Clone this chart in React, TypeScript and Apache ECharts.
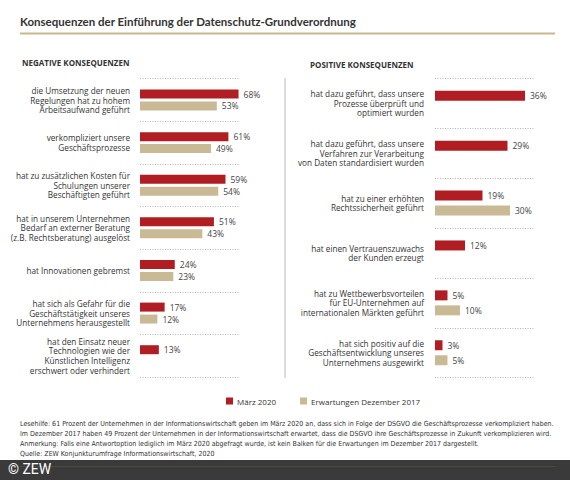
import React, { useEffect, useRef } from 'react';
import * as echarts from 'echarts';

const negativeCategories = [
  'die Umsetzung der neuen\nRegelungen hat zu hohem\nArbeitsaufwand geführt',
  'verkompliziert unsere\nGeschäftsprozesse',
  'hat zu zusätzlichen Kosten für\nSchulungen unserer\nBeschäftigten geführt',
  'hat in unserem Unternehmen\nBedarf an externer Beratung\n(z.B. Rechtsberatung) ausgelöst',
  'hat Innovationen gebremst',
  'hat sich als Gefahr für die\nGeschäftstätigkeit unseres\nUnternehmens herausgestellt',
  'hat den Einsatz neuer\nTechnologien wie der\nKünstlichen Intelligenz\nerschwert oder verhindert',
];
const negativeMarch2020 = [68, 61, 59, 51, 24, 17, 13];
const negativeDec2017 = [53, 49, 54, 43, 23, 12, null];

const positiveCategories = [
  'hat dazu geführt, dass unsere\nProzesse überprüft und\noptimiert wurden',
  'hat dazu geführt, dass unsere\nVerfahren zur Verarbeitung\nvon Daten standardisiert wurden',
  'hat zu einer erhöhten\nRechtssicherheit geführt',
  'hat einen Vertrauenszuwachs\nder Kunden erzeugt',
  'hat zu Wettbewerbsvorteilen\nfür EU-Unternehmen auf\ninternationalen Märkten geführt',
  'hat sich positiv auf die\nGeschäftsentwicklung unseres\nUnternehmens ausgewirkt',
];
const positiveMarch2020 = [36, 29, 19, 12, 5, 3];
const positiveDec2017 = [null, null, 30, null, 10, 5];

const seriesNames = ['März 2020', 'Erwartungen Dezember 2017'];

const title = 'Konsequenzen der Einführung der Datenschutz-Grundverordnung';
const footnotes = [
  'Lesehilfe: 61 Prozent der Unternehmen in der Informationswirtschaft geben im März 2020 an, dass sich in Folge der DSGVO die Geschäftsprozesse verkompliziert haben.',
  'Im Dezember 2017 haben 49 Prozent der Unternehmen in der Informationswirtschaft erwartet, dass die DSGVO ihre Geschäftsprozesse in Zukunft verkomplizieren wird.',
  'Anmerkung: Falls eine Antwortoption lediglich im März 2020 abgefragt wurde, ist kein Balken für die Erwartungen im Dezember 2017 dargestellt.',
  'Quelle: ZEW Konjunkturumfrage Informationswirtschaft, 2020',
];

const RED = '#b01e23';
const TAN = '#c9ba95';
const FONT = '"Open Sans", "Noto Sans", sans-serif';
const TITLE_FONT = 'Lato, "Noto Sans", sans-serif';

const App: React.FC = () => {
  const chartRef = useRef<HTMLDivElement>(null);

  useEffect(() => {
    if (!chartRef.current) return;
    const chart = echarts.init(chartRef.current, null, { renderer: 'svg' });

    const valueLabel = {
      show: true,
      position: 'right',
      distance: 5,
      fontSize: 8.5,
      fontFamily: FONT,
      color: '#444',
      formatter: (p: any) => `${p.value}%`,
    };

    const catAxis = (data: string[], gridIndex: number, margin: number) => ({
      type: 'category',
      gridIndex,
      data,
      inverse: true,
      axisLine: { show: false },
      axisTick: { show: false },
      axisLabel: {
        margin,
        fontSize: 8.2,
        lineHeight: 9.7,
        fontFamily: FONT,
        color: '#333',
        align: 'right',
      },
      splitLine: {
        show: true,
        lineStyle: { color: '#b5b5b5', type: [1, 1.5], width: 1 },
      },
    });

    const option = {
      animation: false,
      textStyle: { fontFamily: FONT },
      grid: [
        { left: 140, width: 100, top: 78.7, height: 298.3 },
        { left: 435, width: 100, top: 78.3, height: 299.4 },
      ],
      xAxis: [
        { type: 'value', gridIndex: 0, min: 0, max: 69, show: false, splitLine: { show: false } },
        { type: 'value', gridIndex: 1, min: 0, max: 40, show: false, splitLine: { show: false } },
      ],
      yAxis: [catAxis(negativeCategories, 0, 10), catAxis(positiveCategories, 1, 11)],
      legend: {
        data: seriesNames,
        left: 226,
        top: 397,
        padding: 0,
        icon: 'rect',
        itemWidth: 7,
        itemHeight: 7,
        itemGap: 24,
        textStyle: { fontSize: 8, fontFamily: FONT, color: '#333', padding: [0, 0, 0, -1] },
      },
      series: [
        {
          name: seriesNames[0], type: 'bar', xAxisIndex: 0, yAxisIndex: 0,
          data: negativeMarch2020, barWidth: 9, barGap: '33%',
          itemStyle: { color: RED }, label: valueLabel,
        },
        {
          name: seriesNames[1], type: 'bar', xAxisIndex: 0, yAxisIndex: 0,
          data: negativeDec2017, barWidth: 9, barGap: '33%',
          itemStyle: { color: TAN }, label: valueLabel,
        },
        {
          name: seriesNames[0], type: 'bar', xAxisIndex: 1, yAxisIndex: 1,
          data: positiveMarch2020, barWidth: 10, barGap: '50%',
          itemStyle: { color: RED }, label: valueLabel,
        },
        {
          name: seriesNames[1], type: 'bar', xAxisIndex: 1, yAxisIndex: 1,
          data: positiveDec2017, barWidth: 10, barGap: '50%',
          itemStyle: { color: TAN }, label: valueLabel,
        },
      ],
      graphic: [
        {
          type: 'text', left: 20, top: 15,
          style: { text: title, fontSize: 11.5, fontWeight: 'bold', fontFamily: TITLE_FONT, fill: '#333' },
        },
        { type: 'rect', shape: { x: 20, y: 32.5, width: 535, height: 2 }, style: { fill: '#c8b88a' } },
        {
          type: 'text', left: 22, top: 58,
          style: { text: 'NEGATIVE KONSEQUENZEN', fontSize: 8, fontWeight: 'bold', fontFamily: FONT, fill: '#333' },
        },
        {
          type: 'text', left: 310, top: 60,
          style: { text: 'POSITIVE KONSEQUENZEN', fontSize: 8, fontWeight: 'bold', fontFamily: FONT, fill: '#333' },
        },
        {
          type: 'rect', shape: { x: 284, y: 78, width: 2, height: 300 },
          style: { fill: '#dcdcdc' },
        },
        ...footnotes.map((t, i) => ({
          type: 'text', left: 20, top: 420 + i * 10.3,
          style: {
            text: t, fontSize: 7.0,
            fontFamily: '"Liberation Sans Narrow", "DejaVu Sans Condensed", sans-serif',
            fill: '#333',
          },
        })),
        { type: 'rect', shape: { x: 0, y: 460, width: 570, height: 20 }, style: { fill: '#3a3a3a' } },
        { type: 'rect', shape: { x: 20, y: 466, width: 535, height: 1 }, style: { fill: '#4e4a3c' } },
        {
          type: 'text', left: 8, top: 462,
          style: { text: '© ZEW', fontSize: 14, fontFamily: 'Roboto, sans-serif', fill: '#ffffff' },
        },
      ],
    };

    chart.setOption(option as any);
    return () => {
      chart.dispose();
    };
  }, []);

  return (
    <div
      ref={chartRef}
      style={{ position: 'fixed', left: 0, top: 0, width: 570, height: 480, background: '#fff' }}
    />
  );
};

export default App;
